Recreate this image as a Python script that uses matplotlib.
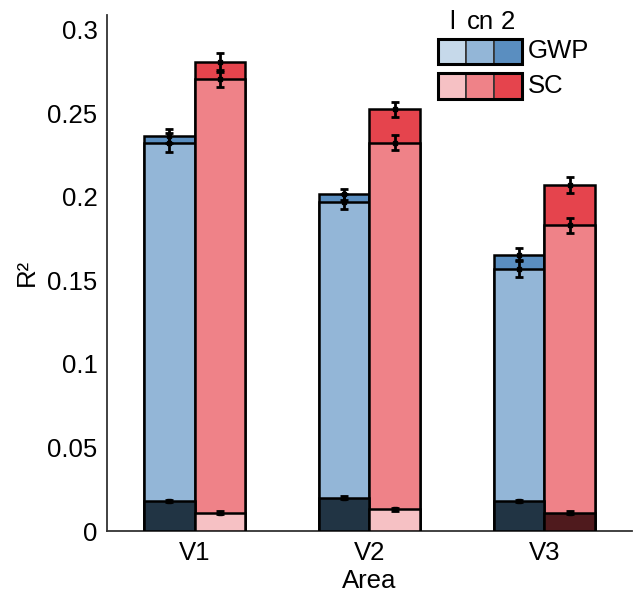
import matplotlib.pyplot as plt
import matplotlib.patches as mpatches
import numpy as np

plt.rcParams['font.family'] = ['Liberation Sans', 'DejaVu Sans']

# Data (cumulative R^2 levels per area)
areas = ['V1', 'V2', 'V3']
gwp_l = [0.018, 0.020, 0.018]
gwp_cn = [0.2325, 0.197, 0.157]
gwp_2 = [0.2365, 0.2015, 0.1655]
sc_l = [0.011, 0.013, 0.011]
sc_cn = [0.2705, 0.2325, 0.183]
sc_2 = [0.281, 0.2525, 0.207]
gwp_l_err = [0.0008, 0.0008, 0.0008]
gwp_cn_err = [0.0055, 0.0045, 0.005]
gwp_2_err = [0.004, 0.0035, 0.004]
sc_l_err = [0.0008, 0.0008, 0.0008]
sc_cn_err = [0.0045, 0.0045, 0.0046]
sc_2_err = [0.005, 0.0045, 0.0048]

legend_rows = ['GWP', 'SC']
legend_cols = ['l', 'cn', '2']

# colours
gwp_colors = ['#c6d9ea', '#93b6d7', '#5a8ec0']
sc_colors = ['#f6c1c4', '#ef8288', '#e5444d']
gwp_bottom = ['#213444', '#213444', '#213444']
sc_bottom = ['#f6c1c4', '#f6c1c4', '#4f1a1d']

FS = 18.5

fig = plt.figure(figsize=(6.38, 6.03), dpi=100)
ax = fig.add_axes([0.168, 0.1194, 0.822, 0.856])

x = np.arange(1, len(areas) + 1)
w = 0.29
ec = dict(edgecolor='black', linewidth=1.8)

# GWP bars (left)
xg = x - w / 2
ax.bar(xg, gwp_2, w, color=gwp_colors[2], zorder=2, **ec)
ax.bar(xg, gwp_cn, w, color=gwp_colors[1], zorder=3, **ec)
ax.bar(xg, gwp_l, w, color=gwp_bottom, zorder=4, **ec)

# SC bars (right)
xs = x + w / 2
ax.bar(xs, sc_2, w, color=sc_colors[2], zorder=2, **ec)
ax.bar(xs, sc_cn, w, color=sc_colors[1], zorder=3, **ec)
ax.bar(xs, sc_l, w, color=sc_bottom, zorder=4, **ec)

eb = dict(fmt='s', color='black', markersize=3.5, capsize=3, elinewidth=2,
          capthick=2, zorder=6)
for xx, vals, errs in [(xg, gwp_l, gwp_l_err), (xg, gwp_cn, gwp_cn_err),
                       (xg, gwp_2, gwp_2_err), (xs, sc_l, sc_l_err),
                       (xs, sc_cn, sc_cn_err), (xs, sc_2, sc_2_err)]:
    ax.errorbar(xx, vals, yerr=errs, **eb)

ax.set_xlim(0.5, 3.5)
ax.set_ylim(0, 0.309)
ax.set_xticks(x)
ax.set_xticklabels(areas)
ax.set_yticks([0, 0.05, 0.1, 0.15, 0.2, 0.25, 0.3])
ax.set_yticklabels(['0', '0.05', '0.1', '0.15', '0.2', '0.25', '0.3'])
ax.tick_params(length=0, labelsize=FS, pad=7)
ax.set_xlabel('Area', fontsize=FS, labelpad=3)
ax.set_ylabel('R²', fontsize=FS, labelpad=6)
for s in ['top', 'right']:
    ax.spines[s].set_visible(False)
for s in ['left', 'bottom']:
    ax.spines[s].set_color('#333333')
    ax.spines[s].set_linewidth(1.3)

# custom legend (figure pixel coords -> figure fraction)
W, H = 638, 603
sq_w, sq_h = 28, 25
x0 = 438
row_tops = [39, 73.5]
for r, (name, cols) in enumerate(zip(legend_rows, [gwp_colors, sc_colors])):
    for c in range(3):
        rect = mpatches.Rectangle(((x0 + c * sq_w) / W, 1 - (row_tops[r] + sq_h) / H),
                                  sq_w / W, sq_h / H, transform=fig.transFigure,
                                  facecolor=cols[c], edgecolor='#333333', linewidth=1.2)
        fig.patches.append(rect)
    outer = mpatches.Rectangle((x0 / W, 1 - (row_tops[r] + sq_h) / H),
                               3 * sq_w / W, sq_h / H, transform=fig.transFigure,
                               facecolor='none', edgecolor='black', linewidth=2.2)
    fig.patches.append(outer)
    fig.text((x0 + 3 * sq_w + 6) / W, 1 - (row_tops[r] + sq_h / 2) / H, name,
             fontsize=FS, va='center', ha='left')
for c, lab in enumerate(legend_cols):
    fig.text((x0 + c * sq_w + sq_w / 2) / W, 1 - 22 / H, lab,
             fontsize=FS, va='center', ha='center')

fig.savefig('out.png', dpi=100)
